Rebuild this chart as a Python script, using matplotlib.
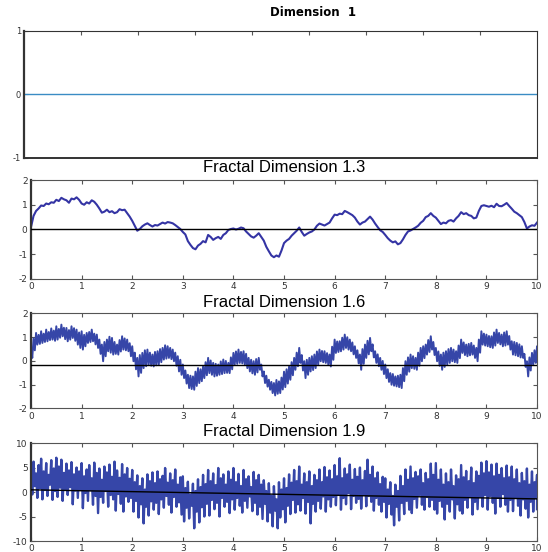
import numpy as np
import matplotlib.pyplot as plt

plt.rcParams['axes.unicode_minus'] = False

# --- values (x = 0..10, step 0.05) ---
d13 = [
    0.10, 0.55, 0.75, 0.85, 0.97, 0.95, 1.05, 1.02, 1.10, 1.08,
    1.20, 1.15, 1.28, 1.22, 1.18, 1.08, 1.25, 1.22, 1.30, 1.20,
    1.05, 1.00, 1.10, 1.05, 1.18, 1.12, 1.00, 0.85, 0.68, 0.72,
    0.80, 0.70, 0.74, 0.66, 0.70, 0.82, 0.78, 0.80, 0.66, 0.52,
    0.35, 0.15, -0.05, 0.02, 0.13, 0.20, 0.25, 0.18, 0.12, 0.18,
    0.16, 0.22, 0.28, 0.24, 0.30, 0.28, 0.25, 0.18, 0.10, 0.02,
    -0.10, -0.20, -0.47, -0.62, -0.75, -0.80, -0.65, -0.58, -0.47, -0.52,
    -0.22, -0.30, -0.42, -0.35, -0.30, -0.38, -0.22, -0.15, -0.02, 0.02,
    0.04, 0.00, 0.03, 0.08, 0.05, -0.08, -0.18, -0.28, -0.33, -0.25,
    -0.15, -0.30, -0.45, -0.70, -0.88, -1.05, -1.12, -1.05, -1.10, -0.85,
    -0.55, -0.45, -0.38, -0.25, -0.15, -0.05, 0.08, -0.10, -0.25, -0.18,
    -0.12, -0.08, 0.00, 0.15, 0.24, 0.20, 0.16, 0.22, 0.28, 0.45,
    0.60, 0.58, 0.64, 0.62, 0.75, 0.70, 0.64, 0.58, 0.48, 0.32,
    0.20, 0.28, 0.32, 0.42, 0.52, 0.40, 0.24, 0.10, -0.03, -0.10,
    -0.22, -0.35, -0.45, -0.52, -0.48, -0.60, -0.55, -0.40, -0.22, -0.08,
    -0.04, 0.02, 0.08, 0.15, 0.27, 0.35, 0.50, 0.55, 0.66, 0.55,
    0.48, 0.35, 0.22, 0.28, 0.25, 0.35, 0.38, 0.32, 0.45, 0.55,
    0.70, 0.62, 0.66, 0.58, 0.55, 0.45, 0.48, 0.75, 0.95, 0.98,
    0.95, 0.92, 0.96, 0.90, 1.04, 0.95, 0.94, 1.00, 1.07, 0.95,
    0.84, 0.72, 0.66, 0.58, 0.50, 0.30, 0.04, 0.12, 0.17, 0.15,
    0.28,
]

# rough traces: local peaks and troughs, same x grid
d16_hi = [
    0.55, 0.95, 1.18, 1.10, 1.25, 1.15, 1.32, 1.22, 1.37, 1.28,
    1.46, 1.35, 1.53, 1.40, 1.39, 1.30, 1.46, 1.38, 1.32, 1.20,
    1.25, 1.10, 1.18, 1.22, 1.32, 1.15, 1.11, 0.90, 0.69, 0.80,
    0.90, 1.02, 0.97, 0.80, 0.69, 0.88, 1.04, 0.95, 0.90, 0.75,
    0.62, 0.35, 0.13, 0.25, 0.34, 0.45, 0.48, 0.35, 0.27, 0.38,
    0.41, 0.50, 0.55, 0.66, 0.62, 0.55, 0.48, 0.35, 0.20, 0.05,
    -0.15, -0.40, -0.58, -0.62, -0.65, -0.45, -0.30, -0.35, -0.23, -0.05,
    0.13, 0.02, -0.08, -0.12, -0.15, -0.02, 0.06, 0.00, -0.08, 0.15,
    0.34, 0.40, 0.48, 0.38, 0.41, 0.30, 0.13, 0.05, -0.01, 0.08,
    0.13, -0.15, -0.44, -0.62, -0.79, -0.88, -0.93, -0.80, -0.86, -0.70,
    -0.45, -0.35, -0.23, -0.05, 0.13, 0.35, 0.55, 0.25, -0.01, 0.05,
    0.13, 0.20, 0.27, 0.40, 0.48, 0.42, 0.41, 0.33, 0.27, 0.60,
    0.90, 0.82, 0.83, 0.98, 1.11, 1.00, 0.90, 0.78, 0.62, 0.45,
    0.27, 0.50, 0.69, 0.85, 0.97, 0.70, 0.41, 0.28, 0.13, 0.00,
    -0.15, -0.35, -0.51, -0.55, -0.65, -0.62, -0.58, -0.30, -0.01, 0.15,
    0.27, 0.20, 0.13, 0.35, 0.55, 0.62, 0.69, 0.88, 1.04, 0.80,
    0.55, 0.40, 0.27, 0.35, 0.41, 0.50, 0.55, 0.48, 0.41, 0.65,
    0.90, 0.78, 0.69, 0.72, 0.76, 0.65, 0.55, 0.90, 1.25, 1.15,
    1.11, 1.05, 1.04, 1.20, 1.32, 1.18, 1.11, 1.20, 1.25, 1.05,
    0.83, 0.80, 0.76, 0.70, 0.62, 0.30, -0.01, 0.15, 0.34, 0.45,
    0.62,
]
d16_lo = [
    0.13, 0.45, 0.69, 0.72, 0.76, 0.80, 0.83, 0.88, 0.90, 0.85,
    0.90, 0.98, 1.04, 0.92, 0.83, 0.90, 0.97, 0.85, 0.69, 0.55,
    0.48, 0.62, 0.76, 0.80, 0.83, 0.70, 0.55, 0.30, -0.01, 0.20,
    0.41, 0.35, 0.27, 0.30, 0.27, 0.40, 0.48, 0.45, 0.41, 0.20,
    -0.01, -0.35, -0.65, -0.50, -0.30, -0.22, -0.15, -0.20, -0.23, -0.18,
    -0.15, -0.05, 0.06, 0.10, 0.13, 0.08, -0.01, -0.20, -0.44, -0.58,
    -0.72, -0.95, -1.14, -1.18, -1.21, -1.05, -0.93, -0.85, -0.72, -0.60,
    -0.51, -0.58, -0.65, -0.62, -0.58, -0.55, -0.51, -0.50, -0.51, -0.35,
    -0.15, -0.12, -0.08, -0.10, -0.15, -0.30, -0.44, -0.52, -0.58, -0.48,
    -0.37, -0.65, -0.93, -1.08, -1.21, -1.35, -1.45, -1.38, -1.35, -1.20,
    -1.10, -0.95, -0.79, -0.60, -0.37, -0.22, -0.08, -0.40, -0.72, -0.58,
    -0.44, -0.38, -0.30, -0.15, -0.01, -0.05, -0.08, -0.15, -0.23, 0.05,
    0.34, 0.38, 0.41, 0.48, 0.55, 0.48, 0.41, 0.28, 0.13, -0.10,
    -0.37, -0.12, 0.13, 0.28, 0.41, 0.15, -0.08, -0.22, -0.37, -0.55,
    -0.72, -0.88, -1.00, -1.04, -1.07, -1.10, -1.14, -0.85, -0.58, -0.45,
    -0.30, -0.33, -0.37, -0.20, -0.01, 0.12, 0.27, 0.38, 0.48, 0.25,
    -0.01, -0.20, -0.37, -0.25, -0.15, -0.08, -0.01, -0.05, -0.08, 0.12,
    0.34, 0.25, 0.20, 0.24, 0.27, 0.13, -0.01, 0.35, 0.69, 0.65,
    0.62, 0.58, 0.55, 0.65, 0.76, 0.70, 0.62, 0.65, 0.69, 0.48,
    0.27, 0.24, 0.20, 0.15, 0.13, -0.25, -0.65, -0.40, -0.15, -0.08,
    -0.01,
]

d19_hi = [
    4.5, 6.2, 3.8, 5.5, 6.8, 4.2, 5.9, 3.5, 6.5, 4.8,
    7.0, 5.2, 6.6, 3.9, 5.8, 4.4, 6.1, 3.6, 5.0, 4.2,
    5.9, 3.2, 4.6, 5.5, 2.8, 6.0, 3.9, 4.8, 2.5, 5.2,
    4.0, 5.6, 3.1, 6.2, 4.4, 2.9, 5.7, 3.6, 4.9, 2.7,
    4.5, 2.0, 3.4, 1.2, 2.8, 0.5, 3.6, 2.2, 4.0, 1.8,
    4.2, 2.6, 3.3, 4.9, 1.9, 3.8, 2.4, 4.6, 1.5, 3.0,
    3.2, 0.8, 2.1, -0.5, 1.7, 0.2, 2.6, 1.0, 3.5, 1.6,
    4.5, 2.2, 3.8, 1.4, 4.9, 2.8, 3.6, 1.5, 4.2, 2.5,
    4.9, 2.0, 3.7, 1.2, 4.5, 2.6, 3.2, 1.0, 4.1, 2.4,
    3.5, 1.5, 2.4, 0.2, 1.8, -0.8, 1.2, -1.5, 2.0, 0.5,
    2.8, 0.8, 3.6, 1.9, 4.5, 2.2, 5.2, 1.5, 3.8, 2.0,
    4.2, 1.2, 3.5, 2.4, 4.6, 2.0, 5.1, 3.0, 4.4, 2.6,
    5.5, 3.2, 6.9, 2.8, 4.8, 3.6, 5.6, 2.5, 4.7, 3.1,
    5.0, 2.4, 4.3, 6.6, 3.5, 5.2, 2.8, 4.0, 1.6, 3.1,
    2.8, 0.5, 2.0, -0.8, 1.5, 0.2, 3.3, 1.2, 4.6, 2.5,
    5.2, 2.8, 4.1, 3.2, 4.6, 1.8, 3.9, 2.6, 5.8, 3.5,
    5.9, 2.5, 4.6, 1.5, 3.8, 2.0, 4.6, 1.2, 3.4, 2.6,
    5.5, 3.0, 4.3, 2.2, 5.0, 1.8, 4.2, 3.3, 6.0, 3.8,
    6.3, 4.0, 5.6, 3.2, 5.8, 3.5, 4.9, 2.8, 5.4, 3.0,
    5.2, 2.6, 4.6, 1.8, 3.9, 2.2, 4.8, 1.5, 4.2, 2.0,
    3.5,
]
d19_lo = [
    -0.5, 1.2, -1.2, 0.8, -1.5, 0.4, -0.8, 1.5, -1.6, 0.2,
    -1.0, 0.9, -1.8, 0.5, -0.6, 1.0, -2.5, 0.3, -1.2, 0.6,
    -3.3, -0.2, -1.8, 0.4, -2.6, -0.8, -4.3, -1.0, -2.2, 0.2,
    -3.0, -0.6, -1.5, -3.8, -0.4, -2.4, -4.0, -0.9, -2.0, -1.2,
    -4.0, -1.8, -5.2, -2.5, -6.4, -3.0, -4.8, -1.9, -3.6, -2.2,
    -4.5, -1.5, -3.2, -0.8, -2.6, -4.2, -1.0, -3.0, -2.1, -4.6,
    -6.0, -3.2, -5.4, -2.8, -7.4, -4.0, -6.2, -3.1, -5.0, -2.4,
    -4.8, -1.6, -3.5, -2.2, -5.0, -1.2, -3.0, -2.0, -4.3, -1.5,
    -3.6, -1.2, -2.8, -4.2, -1.8, -3.2, -0.9, -3.9, -2.2, -4.6,
    -3.0, -5.5, -2.4, -6.0, -4.2, -7.0, -3.8, -7.4, -5.2, -3.5,
    -6.2, -2.8, -4.5, -1.6, -4.2, -2.5, -3.8, -1.2, -4.4, -2.0,
    -6.4, -2.4, -4.0, -1.8, -3.4, -0.9, -4.0, -1.5, -3.0, -1.0,
    -2.7, -0.4, -3.6, -1.2, -2.5, -0.2, -3.5, -0.8, -2.2, -1.4,
    -3.4, -0.6, -2.9, -0.8, -2.0, -3.8, -1.2, -2.6, -4.0, -2.0,
    -5.2, -2.4, -4.6, -6.8, -3.0, -5.8, -2.2, -4.5, -1.8, -3.6,
    -4.3, -1.4, -3.2, -0.6, -2.6, -3.6, -1.0, -3.0, -1.6, -3.6,
    -4.4, -1.8, -3.0, -5.6, -2.4, -4.0, -1.5, -5.4, -2.5, -3.8,
    -4.4, -1.6, -3.2, -0.8, -4.6, -2.0, -3.5, -1.0, -3.0, -0.6,
    -3.6, -0.8, -2.2, -4.4, -1.2, -3.0, -0.4, -2.6, -4.0, -1.6,
    -3.9, -1.2, -2.8, -4.8, -1.5, -3.4, -5.2, -2.0, -4.0, -1.2,
    -3.5,
]

# black reference lines (value at x=0 and x=10)
d13_ref = [0.0, 0.0]
d16_ref = [-0.17, -0.17]
d19_ref = [0.45, -1.4]

titles = ['Fractal Dimension 1.3', 'Fractal Dimension 1.6', 'Fractal Dimension 1.9']
ylims = [2, 2, 10]
yticks = [[-2, -1, 0, 1, 2], [-2, -1, 0, 1, 2], [-10, -5, 0, 5, 10]]

BLUE = '#3434a4'
DENSE = '#3646a8'


def zigzag(hi, lo):
    n = min(len(hi), len(lo))
    x = np.linspace(0, 10, n)
    step = x[1] - x[0]
    xs = np.empty(2 * n)
    ys = np.empty(2 * n)
    xs[0::2] = x
    xs[1::2] = np.minimum(x + step / 2, 10)
    ys[0::2] = hi[:n]
    ys[1::2] = lo[:n]
    return xs, ys


def style(ax):
    for s in ax.spines.values():
        s.set_color('#555555')
        s.set_linewidth(0.8)
    ax.spines['left'].set_color('#333333')
    ax.spines['left'].set_linewidth(1.6)
    ax.tick_params(direction='in', length=3, width=0.8, color='#555555',
                   top=True, right=True, labelsize=6.5, labelcolor='#333333', pad=2.5)


fig = plt.figure(figsize=(5.48, 5.52), dpi=100)

# --- top panel: dimension 1 ---
ax0 = fig.add_axes([0.0447, 0.7138, 0.9352, 0.2301])
ax0.plot([0, 9], [0, 0], color='#3a8cc4', lw=1.0)
ax0.set_xlim(0, 9)
ax0.set_ylim(-1, 1)
ax0.set_yticks([-1, 0, 1])
ax0.set_xticks(range(1, 9))
style(ax0)
ax0.tick_params(bottom=False, right=False, labelbottom=False, labelsize=6)
for s in ax0.spines.values():
    s.set_color('#333333')
ax0.spines['bottom'].set_linewidth(1.4)
fig.text(313 / 548, 1 - 12 / 552, 'Dimension  1', ha='center', va='center',
         fontsize=8.5, fontweight='bold', family='DejaVu Sans')

rects = [
    [0.0566, 0.4946, 0.9234, 0.1793],
    [0.0566, 0.2600, 0.9234, 0.1721],
    [0.0566, 0.0199, 0.9234, 0.1775],
]
title_y = [1 - 167 / 552, 1 - 302.5 / 552, 1 - 431.7 / 552]

for i, rect in enumerate(rects):
    ax = fig.add_axes(rect)
    if i == 0:
        ax.plot(np.linspace(0, 10, len(d13)), d13, color=BLUE, lw=1.5)
        ref = d13_ref
    elif i == 1:
        xs, ys = zigzag(d16_hi, d16_lo)
        ax.plot(xs, ys, color=DENSE, lw=1.4)
        ref = d16_ref
    else:
        xs, ys = zigzag(d19_hi, d19_lo)
        ax.plot(xs, ys, color=DENSE, lw=1.7)
        ref = d19_ref
    ax.plot([0, 10], ref, color='black', lw=1.0, zorder=5)
    ax.set_xlim(0, 10)
    ax.set_ylim(-ylims[i], ylims[i])
    ax.set_xticks(range(11))
    ax.set_yticks(yticks[i])
    style(ax)
    fig.text(284 / 548, title_y[i], titles[i], ha='center', va='center',
             fontsize=12, family='Liberation Sans')

fig.savefig('out.png', dpi=100)
